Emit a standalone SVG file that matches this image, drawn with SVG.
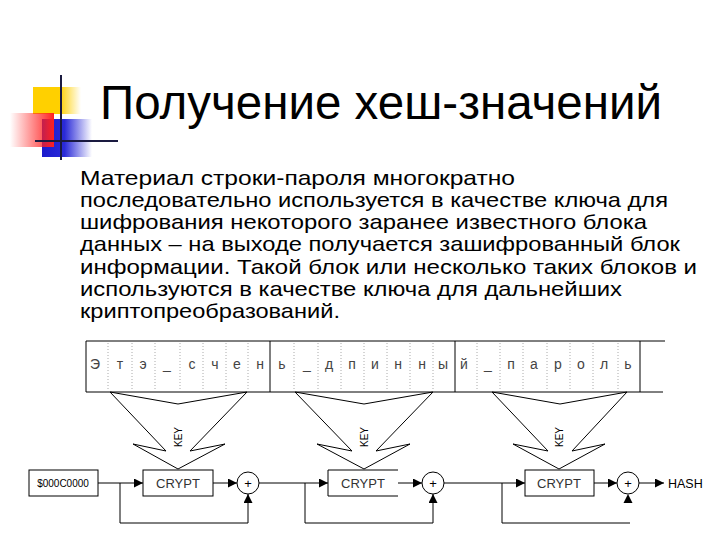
<svg xmlns="http://www.w3.org/2000/svg" width="720" height="540" viewBox="0 0 720 540">
<defs>
<linearGradient id="gy" x1="0" y1="0" x2="1" y2="0"><stop offset="0" stop-color="#ffd000"/><stop offset="0.55" stop-color="#ffd000"/><stop offset="1" stop-color="#ffd000" stop-opacity="0"/></linearGradient>
<linearGradient id="gr" x1="0" y1="0" x2="1" y2="0"><stop offset="0" stop-color="#ff2020" stop-opacity="0"/><stop offset="1" stop-color="#ff2020"/></linearGradient>
<linearGradient id="gb" x1="0" y1="0" x2="1" y2="0"><stop offset="0" stop-color="#1a1acc"/><stop offset="0.45" stop-color="#2a2ad8"/><stop offset="1" stop-color="#2a2ad8" stop-opacity="0"/></linearGradient>
<marker id="ar" markerWidth="9" markerHeight="9" refX="9" refY="4.5" orient="auto" markerUnits="userSpaceOnUse"><path d="M0,0 L9,4.5 L0,9 z" fill="#000"/></marker>
<style>
.title{font-family:"Liberation Sans",Arial,sans-serif;font-size:48px;fill:#000}
.body{font-family:"Liberation Sans",Arial,sans-serif;font-size:21px;fill:#000}
.ch{font-family:"Liberation Sans",Arial,sans-serif;font-size:14px;fill:#444;text-anchor:middle}
.lbl{font-family:"Liberation Sans",Arial,sans-serif;font-size:13px;fill:#333;text-anchor:middle}
.sm{font-family:"Liberation Sans",Arial,sans-serif;font-size:10px;fill:#000;text-anchor:middle}
.plus{font-family:"Liberation Sans",Arial,sans-serif;font-size:13px;fill:#000;text-anchor:middle}
.key{font-family:"Liberation Sans",Arial,sans-serif;font-size:10px;fill:#000;text-anchor:middle}
.ln{fill:none;stroke:#000;stroke-width:1}
.dot{stroke:#aaa;stroke-width:1;stroke-dasharray:1 2}
.box{fill:#fff;stroke:#000;stroke-width:1}
</style>
</defs>
<rect width="720" height="540" fill="#fff"/>
<g id="logo">
<rect x="33" y="87" width="48" height="27" fill="url(#gy)"/>
<rect x="42" y="119" width="50" height="38" fill="url(#gb)"/>
<rect x="10" y="113" width="44" height="34" fill="url(#gr)"/>
<line x1="61" y1="75" x2="61" y2="160" stroke="#1a1a40" stroke-width="2"/>
<line x1="35" y1="141" x2="118" y2="141" stroke="#1a1a40" stroke-width="2"/>
</g>
<g id="title"><text class="title" x="100" y="119" textLength="562" lengthAdjust="spacingAndGlyphs">Получение хеш-значений</text></g>
<g id="body">
<text class="body" x="80" y="185" textLength="435" lengthAdjust="spacingAndGlyphs">Материал строки-пароля многократно</text>
<text class="body" x="80" y="207" textLength="588" lengthAdjust="spacingAndGlyphs">последовательно используется в качестве ключа для</text>
<text class="body" x="80" y="229" textLength="567" lengthAdjust="spacingAndGlyphs">шифрования некоторого заранее известного блока</text>
<text class="body" x="80" y="251" textLength="600" lengthAdjust="spacingAndGlyphs">данных – на выходе получается зашифрованный блок</text>
<text class="body" x="80" y="274" textLength="617" lengthAdjust="spacingAndGlyphs">информации. Такой блок или несколько таких блоков и</text>
<text class="body" x="80" y="296" textLength="542" lengthAdjust="spacingAndGlyphs">используются в качестве ключа для дальнейших</text>
<text class="body" x="80" y="318" textLength="260" lengthAdjust="spacingAndGlyphs">криптопреобразований.</text>
</g>
<g id="strip">
<g class="dotlines">
<line class="dot" x1="108" y1="343" x2="108" y2="391"/><line class="dot" x1="132" y1="343" x2="132" y2="391"/><line class="dot" x1="155" y1="343" x2="155" y2="391"/><line class="dot" x1="180" y1="343" x2="180" y2="391"/><line class="dot" x1="203" y1="343" x2="203" y2="391"/><line class="dot" x1="226" y1="343" x2="226" y2="391"/><line class="dot" x1="248" y1="343" x2="248" y2="391"/>
<line class="dot" x1="294" y1="343" x2="294" y2="391"/><line class="dot" x1="318" y1="343" x2="318" y2="391"/><line class="dot" x1="341" y1="343" x2="341" y2="391"/><line class="dot" x1="364" y1="343" x2="364" y2="391"/><line class="dot" x1="387" y1="343" x2="387" y2="391"/><line class="dot" x1="410" y1="343" x2="410" y2="391"/><line class="dot" x1="433" y1="343" x2="433" y2="391"/>
<line class="dot" x1="477" y1="343" x2="477" y2="391"/><line class="dot" x1="500" y1="343" x2="500" y2="391"/><line class="dot" x1="523" y1="343" x2="523" y2="391"/><line class="dot" x1="547" y1="343" x2="547" y2="391"/><line class="dot" x1="570" y1="343" x2="570" y2="391"/><line class="dot" x1="593" y1="343" x2="593" y2="391"/><line class="dot" x1="618" y1="343" x2="618" y2="391"/>
</g>
<path class="ln" d="M665,341 H86 V392 H663 M270,341 V392 M455,341 V392 M640,341 V392"/>
<g id="cell1">
<text class="ch" x="95" y="369">Э</text><text class="ch" x="120" y="369">т</text><text class="ch" x="143" y="369">э</text><text class="ch" x="167" y="369">_</text><text class="ch" x="192" y="369">с</text><text class="ch" x="215" y="369">ч</text><text class="ch" x="237" y="369">е</text><text class="ch" x="260" y="369">н</text>
</g>
<g id="cell2">
<text class="ch" x="282" y="369">ь</text><text class="ch" x="307" y="369">_</text><text class="ch" x="329" y="369">д</text><text class="ch" x="352" y="369">п</text><text class="ch" x="375" y="369">и</text><text class="ch" x="398" y="369">н</text><text class="ch" x="422" y="369">н</text><text class="ch" x="443" y="369">ы</text>
</g>
<g id="cell3">
<text class="ch" x="464" y="369">й</text><text class="ch" x="488" y="369">_</text><text class="ch" x="511" y="369">п</text><text class="ch" x="534" y="369">а</text><text class="ch" x="558" y="369">р</text><text class="ch" x="581" y="369">о</text><text class="ch" x="604" y="369">л</text><text class="ch" x="628" y="369">ь</text>
</g>
</g>
<g id="connectors">
<g id="funnel1">
<polyline class="ln" points="110,392 178,404 247,392"/>
<polyline class="ln" points="110,392 166,451 133,444 178,469 225,444 190,451 247,392"/>
</g>
<g id="funnel2">
<polyline class="ln" points="295,392 364,404 433,392"/>
<polyline class="ln" points="295,392 352,451 317,444 364,469 410,444 376,451 433,392"/>
</g>
<g id="funnel3">
<polyline class="ln" points="492,392 560,404 627,392"/>
<polyline class="ln" points="492,392 548,451 513,444 559,469 605,444 572,451 627,392"/>
</g>
<line class="ln" x1="98" y1="483" x2="143" y2="483" marker-end="url(#ar)"/>
<polyline class="ln" points="120,483 120,523 248,523 248,494" marker-end="url(#ar)"/>
<line class="ln" x1="213" y1="483" x2="237" y2="483" marker-end="url(#ar)"/>
<line class="ln" x1="259" y1="483" x2="328" y2="483" marker-end="url(#ar)"/>
<polyline class="ln" points="305,483 305,523 433,523 433,494" marker-end="url(#ar)"/>
<line class="ln" x1="398" y1="483" x2="422" y2="483" marker-end="url(#ar)"/>
<line class="ln" x1="444" y1="483" x2="525" y2="483" marker-end="url(#ar)"/>
<polyline class="ln" points="502,483 502,523 630,523"/>
<path d="M628,494 L632.5,503 L623.5,503 z" fill="#000"/>
<line class="ln" x1="594" y1="483" x2="617" y2="483" marker-end="url(#ar)"/>
<line class="ln" x1="639" y1="483" x2="664" y2="483" marker-end="url(#ar)"/>
</g>
<g id="key1"><text class="key" transform="translate(182,437) rotate(-90)">KEY</text></g>
<g id="key2"><text class="key" transform="translate(368,437) rotate(-90)">KEY</text></g>
<g id="key3"><text class="key" transform="translate(563,437) rotate(-90)">KEY</text></g>
<g id="init"><rect class="box" x="29" y="470" width="69" height="26"/><text class="sm" x="63" y="487">$000C0000</text></g>
<g id="crypt1"><rect class="box" x="143" y="470" width="70" height="26"/><text class="lbl" x="178" y="488">CRYPT</text></g>
<g id="crypt2"><path class="ln" d="M398,470 H328 V496 H398"/><text class="lbl" x="363" y="488">CRYPT</text></g>
<g id="crypt3"><rect class="box" x="525" y="470" width="69" height="26"/><text class="lbl" x="559" y="488">CRYPT</text></g>
<g id="xor1"><circle class="box" cx="248" cy="483" r="11"/><text class="plus" x="248" y="488">+</text></g>
<g id="xor2"><circle class="box" cx="433" cy="483" r="11"/><text class="plus" x="433" y="488">+</text></g>
<g id="xor3"><circle class="box" cx="628" cy="483" r="11"/><text class="plus" x="628" y="488">+</text></g>
<g id="hash"><text class="lbl" x="668" y="488" style="text-anchor:start;font-size:12.5px;fill:#000">HASH</text></g>
</svg>
